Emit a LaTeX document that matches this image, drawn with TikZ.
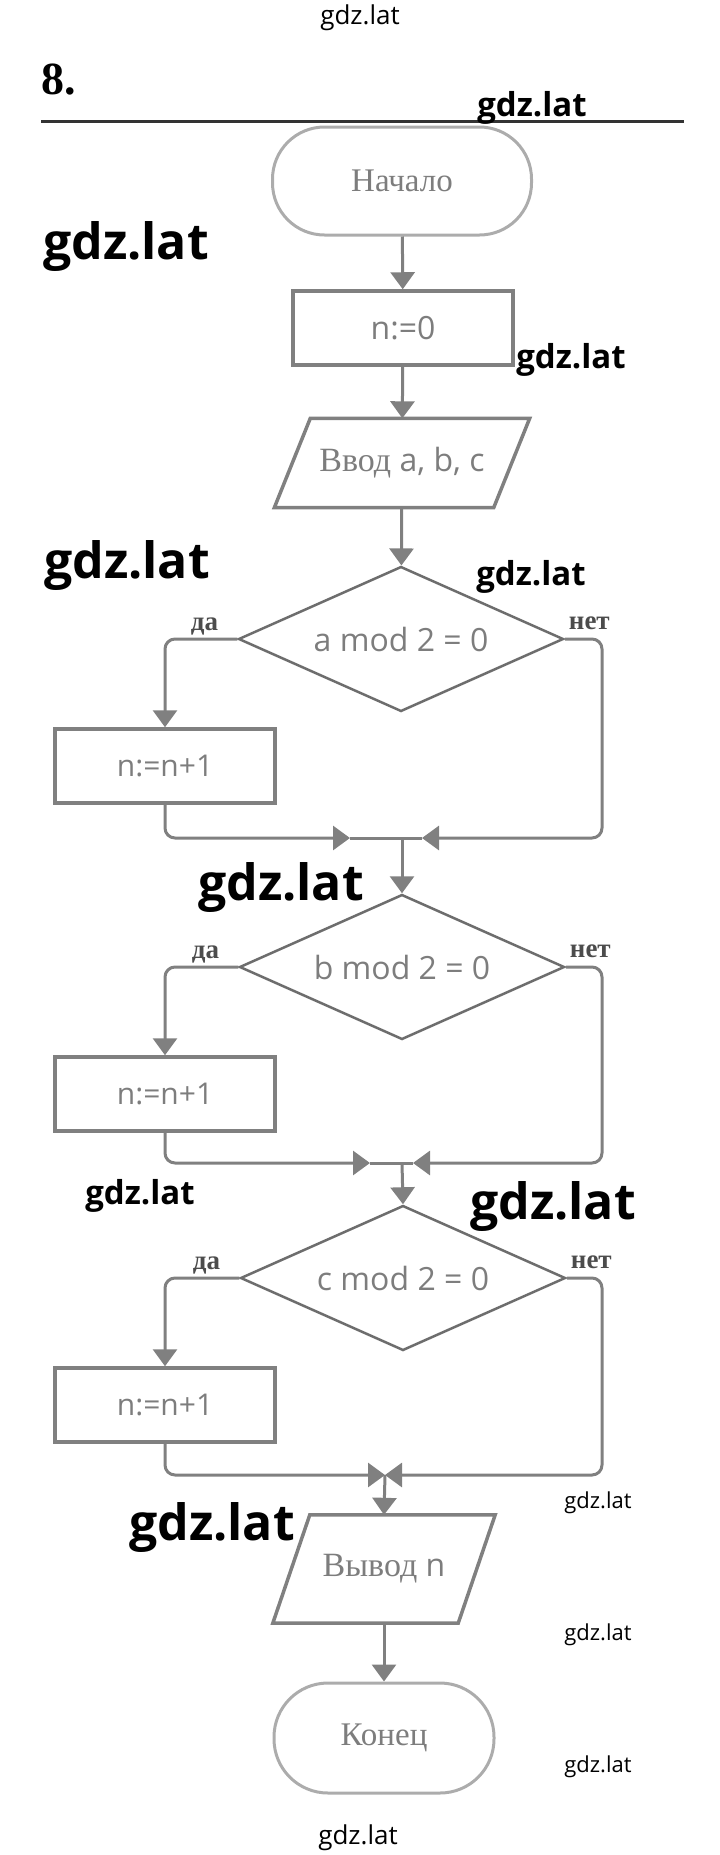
\documentclass[tikz,border=0pt]{standalone}
\usepackage{fontspec}
\setmainfont{Liberation Serif}
\newfontfamily\sansfont{Open Sans}
\newfontfamily\wmfont{Open Sans}
\usepackage{tikz}
\usetikzlibrary{arrows.meta,shapes,positioning}
\definecolor{linegray}{RGB}{128,128,128}
\definecolor{textgray}{RGB}{125,125,125}
\definecolor{termgray}{RGB}{172,172,172}
\newcommand{\fsz}[1]{\fontsize{#1}{#1}\selectfont}
\tikzstyle{connLine} = [draw=linegray, line width=3pt]
\tikzstyle{flow} = [connLine, -{Triangle[length=17pt,width=24pt]}]
\tikzstyle{baseNode} = [inner sep=0pt, text=textgray, font=\sansfont\fsz{30}]
\tikzstyle{termNode} = [baseNode, shape=rectangle, draw=termgray, line width=3pt, rounded corners=52pt, minimum width=259pt, minimum height=108pt, font=\fsz{33}]
\tikzstyle{procNode} = [baseNode, shape=rectangle, draw=linegray, line width=3.5pt, minimum width=220pt, minimum height=74pt]
\tikzstyle{ioNode} = [baseNode, shape=rectangle, minimum width=219pt, minimum height=89pt, font=\sansfont\fsz{32}]
\tikzstyle{ioLine} = [draw=linegray, line width=3.5pt, line join=miter]
\tikzstyle{decNode} = [baseNode, shape=diamond, aspect=2.2, draw=linegray!85!black, line width=2.5pt, minimum width=325pt, minimum height=145pt, font=\sansfont\fsz{32}]
\tikzstyle{branch} = [font=\bfseries\fsz{27}, text=black!70, inner sep=0pt]
\tikzstyle{wmBig} = [font=\wmfont\bfseries\fsz{50}, inner sep=0pt]
\tikzstyle{wmMid} = [font=\wmfont\bfseries\fsz{33}, inner sep=0pt]
\tikzstyle{wmSmall} = [font=\wmfont\fsz{22}, inner sep=0pt]
\tikzstyle{wmPage} = [font=\wmfont\fsz{26}, inner sep=0pt]

\begin{document}
\begin{tikzpicture}[x=1pt, y=-1pt]
	\useasboundingbox (0,0) rectangle (720,1855);
	\node (num) [anchor=base west, font=\bfseries\fsz{46}, inner sep=0pt] at (41,94) {8.};
	\draw[line width=3pt, black!80] (41,121) -- (684,121);

	\node (start) [termNode] at (402,181) {Начало};
	\node (init) [procNode, font=\sansfont\fsz{32}] at (403,328) {n:=0};
	\node (input) [ioNode] at (402,463) {{\rmfamily\fsz{34}Ввод} a, b, c};
	\draw[ioLine] ([xshift=18pt]input.north west) -- ([xshift=18pt]input.north east) -- ([xshift=-18pt]input.south east) -- ([xshift=-18pt]input.south west) -- cycle;

	\node (d1) [decNode] at (401,639) {a mod 2 = 0};
	\node (b1) [procNode] at (165,766) {n:=n+1};
	\node (d2) [decNode] at (402,967) {b mod 2 = 0};
	\node (b2) [procNode] at (165,1094) {n:=n+1};
	\node (d3) [decNode] at (403,1278) {c mod 2 = 0};
	\node (b3) [procNode] at (165,1405) {n:=n+1};

	\node (output) [ioNode, minimum width=185pt, minimum height=108pt] at (384,1569) {{\rmfamily\fsz{34}Вывод} n};
	\draw[ioLine] ([xshift=18.5pt]output.north west) -- ([xshift=18.5pt]output.north east) -- ([xshift=-18.5pt]output.south east) -- ([xshift=-18.5pt]output.south west) -- cycle;
	\node (finish) [termNode, minimum width=220pt, minimum height=110pt, rounded corners=54pt] at (384,1738) {Конец};

	\node (yes1) [branch, anchor=south east] at ([xshift=-19pt,yshift=4pt]d1.west) {да};
	\node (no1) [branch, anchor=south west] at ([xshift=4pt,yshift=9pt]d1.east) {нет};
	\node (yes2) [branch, anchor=south east] at ([xshift=-19pt,yshift=4pt]d2.west) {да};
	\node (no2) [branch, anchor=south west] at ([xshift=4pt,yshift=9pt]d2.east) {нет};
	\node (yes3) [branch, anchor=south east] at ([xshift=-19pt,yshift=4pt]d3.west) {да};
	\node (no3) [branch, anchor=south west] at ([xshift=4pt,yshift=9pt]d3.east) {нет};

	\coordinate (m1) at (402,838);
	\coordinate (l1) at (350,838);
	\coordinate (r1) at (602,838);
	\coordinate (t1) at (422,838);
	\coordinate (m2) at (402,1163);
	\coordinate (l2) at (370,1163);
	\coordinate (r2) at (602,1163);
	\coordinate (t2) at (413,1163);
	\coordinate (m3) at (385,1475);
	\coordinate (r3) at (602,1475);

	\draw[flow] (start) -- (init);
	\draw[flow] (init) -- (input);
	\draw[flow] (input) -- (d1);

	\draw[flow, rounded corners=10pt] (d1.west) -| (b1.north);
	\draw[flow, rounded corners=10pt] (b1.south) |- (l1);
	\draw[connLine] (l1) -- (m1);
	\draw[flow, rounded corners=10pt] (d1.east) -| (r1) -- (t1);
	\draw[connLine] (t1) -- (m1);
	\draw[flow] (m1) -- (d2.north);

	\draw[flow, rounded corners=10pt] (d2.west) -| (b2.north);
	\draw[flow, rounded corners=10pt] (b2.south) |- (l2);
	\draw[connLine] (l2) -- (m2);
	\draw[flow, rounded corners=10pt] (d2.east) -| (r2) -- (t2);
	\draw[connLine] (t2) -- (m2);
	\draw[flow] (m2) -- (d3.north);

	\draw[flow, rounded corners=10pt] (d3.west) -| (b3.north);
	\draw[flow, rounded corners=10pt] (b3.south) |- (m3);
	\draw[flow, rounded corners=10pt] (d3.east) -| (r3) -- (m3);
	\draw[flow] (m3) -- (output.north);
	\draw[flow] (output) -- (finish);

	\node (markTop) [wmPage] at (360,18) {gdz.lat};
	\node (markA) [wmMid] at (532,108) {gdz.lat};
	\node (markB) [wmBig] at (126,247) {gdz.lat};
	\node (markC) [wmMid] at (571,360) {gdz.lat};
	\node (markD) [wmBig] at (127,566) {gdz.lat};
	\node (markE) [wmMid] at (531,577) {gdz.lat};
	\node (markF) [wmBig] at (281,887) {gdz.lat};
	\node (markG) [wmMid] at (140,1196) {gdz.lat};
	\node (markH) [wmBig] at (553,1206) {gdz.lat};
	\node (markI) [wmBig] at (212,1527) {gdz.lat};
	\node (markJ) [wmSmall] at (598,1503) {gdz.lat};
	\node (markK) [wmSmall] at (598,1635) {gdz.lat};
	\node (markL) [wmSmall] at (598,1767) {gdz.lat};
	\node (markBottom) [wmPage] at (358,1838) {gdz.lat};
\end{tikzpicture}
\end{document}
